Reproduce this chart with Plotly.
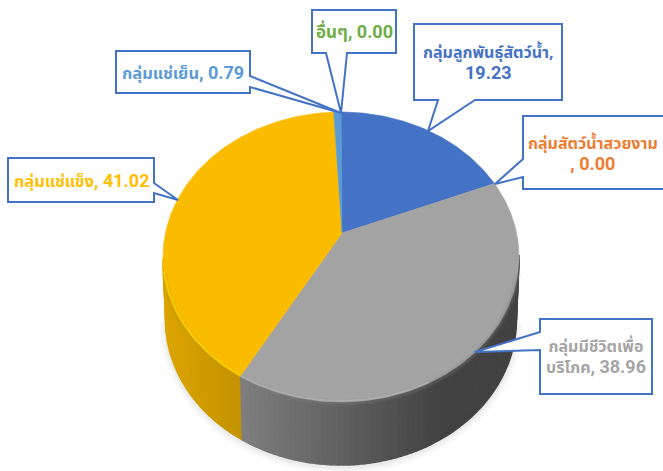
import re
import numpy as np
import plotly.graph_objects as go

categories = ["กลุ่มลูกพันธุ์สัตว์น้ำ", "กลุ่มสัตว์น้ำสวยงาม", "กลุ่มมีชีวิตเพื่อบริโภค", "กลุ่มแช่แข็ง", "กลุ่มแช่เย็น", "อื่นๆ"]
values = [19.23, 0.00, 38.96, 41.02, 0.79, 0.00]
slice_colors = ["#4472C4", "#ED7D31", "#A3A3A3", "#FBBC00", "#5B9BD5", "#70AD47"]
text_colors = ["#4472C4", "#ED7D31", "#A5A5A5", "#FFC000", "#5B9BD5", "#70AD47"]
label_lines = [
    "กลุ่มลูกพันธุ์สัตว์น้ำ,<br>19.23",
    "กลุ่มสัตว์น้ำสวยงาม<br>, 0.00",
    "กลุ่มมีชีวิตเพื่อ<br>บริโภค, 38.96",
    "กลุ่มแช่แข็ง, 41.02",
    "กลุ่มแช่เย็น, 0.79",
    "อื่นๆ, 0.00",
]
label_sizes = [16, 16, 16, 16.5, 16.5, 17]

# Layout of the tilted pie, in page pixels
CX, CY, RX, RY = 341, 257, 178, 145
APEX = (342, 233)
DEPTH = 63
BOTTOM_SCALE = 0.985
WARP = np.radians(10.3)

# label box: x0, y0, x1, y1, wedge base a, wedge base b, tip
boxes = [
    (414, 24, 562, 100, (475, 100), (438, 100), (428, 131)),
    (523, 116, 672, 189, (523, 177), (523, 159), (495, 184)),
    (540, 319, 652, 394, (540, 350), (540, 332), (475, 352)),
    (8, 158, 154, 202, (154, 183), (154, 193), (178, 200)),
    (116, 51, 250, 93, (250, 76), (250, 87), (341, 113)),
    (312, 10, 396, 53, (347, 53), (326, 53), (341, 113)),
]


def param(theta):
    return theta - WARP * np.sin(theta)


def rim(theta):
    t = param(theta)
    return CX + RX * np.sin(t), CY - RY * np.cos(t)


def hexrgb(c):
    return tuple(int(c[i:i + 2], 16) for i in (1, 3, 5))


def scaled(c, f):
    r, g, b = hexrgb(c)
    return f"rgb({min(255, int(r * f))},{min(255, int(g * f))},{min(255, int(b * f))})"


def styled(label):
    return re.sub(r"(, ?)?(\d+\.\d+)",
                  lambda m: f"<span style=\"font-family:Roboto;font-size:18px\">{m.group(0)}</span>",
                  label)


fig = go.Figure()
cum = np.cumsum([0] + values) / sum(values) * 2 * np.pi


def poly(x, y, color, lw=0.6):
    fig.add_trace(go.Scatter(x=list(x), y=list(y), mode="lines", fill="toself", fillcolor=color,
                             line=dict(color=color, width=lw), hoverinfo="skip", showlegend=False))


# soft shadow under the body
tt = np.linspace(np.pi * 0.5, np.pi * 1.5, 160)
for w, a in [(16, 0.012), (12, 0.015), (8, 0.02), (4, 0.03)]:
    fig.add_trace(go.Scatter(x=CX + BOTTOM_SCALE * RX * np.sin(tt), y=CY + DEPTH - RY * np.cos(tt) + 2, mode="lines",
                             line=dict(color=f"rgba(0,0,0,{a})", width=w), hoverinfo="skip", showlegend=False))

# side wall strips
for i, col in enumerate(slice_colors):
    a, b = cum[i], cum[i + 1]
    if b - a <= 0:
        continue
    n = max(2, int((b - a) / np.radians(1.5)))
    edges = np.linspace(a, b, n + 1)
    for e0, e1 in zip(edges[:-1], edges[1:]):
        mid = (e0 + e1) / 2
        if np.cos(param(mid)) > 0:
            continue
        xs0, ys0 = rim(np.array([e0, e1]))
        xb = CX + (xs0 - CX) * BOTTOM_SCALE
        xm, _ = rim(mid)
        f = np.interp(xm, [163, 240, 440, 518], [0.88, 0.78, 0.41, 0.41])
        poly(list(xs0) + list(xb[::-1]), list(ys0) + list(ys0[::-1] + DEPTH), scaled(col, f), lw=1.6)

# top face
for i, col in enumerate(slice_colors):
    a, b = cum[i], cum[i + 1]
    if b - a <= 0:
        continue
    th = np.linspace(a, b, max(3, int((b - a) / np.radians(1))))
    x, y = rim(th)
    poly([APEX[0]] + list(x) + [APEX[0]], [APEX[1]] + list(y) + [APEX[1]], col)

# bevel highlight along the front rim
for i, col in enumerate(slice_colors):
    a, b = cum[i], cum[i + 1]
    if b - a <= 0:
        continue
    th = np.linspace(a, b, max(3, int((b - a) / np.radians(1))))
    th = th[np.cos(param(th)) < -0.1]
    if len(th) < 2:
        continue
    x, y = rim(th)
    for w, op in [(7, 0.10), (4, 0.18)]:
        fig.add_trace(go.Scatter(x=x, y=y + 1, mode="lines", line=dict(color=scaled(col, 0.8), width=w),
                                 opacity=op, hoverinfo="skip", showlegend=False))
    hi = "#FFE600" if col == "#FBBC00" else scaled(col, 1.15)
    keep = x < 430
    fig.add_trace(go.Scatter(x=x[keep], y=y[keep] - 1, mode="lines", line=dict(color=hi, width=2),
                             opacity=0.55, hoverinfo="skip", showlegend=False))

# callout boxes
shapes = []
annotations = []
order = [5, 4, 0, 1, 3, 2]
for i in order:
    x0, y0, x1, y1, wa, wb, tip = boxes[i]
    if wa[1] == y1:  # wedge on bottom edge
        p = [(x0, y0), (x1, y0), (x1, y1), wa, tip, wb, (x0, y1)]
    elif wa[0] == x0:  # wedge on left edge
        p = [(x0, y0), (x1, y0), (x1, y1), (x0, y1), wa, tip, wb]
    else:  # wedge on right edge
        p = [(x0, y0), (x1, y0), wa, tip, wb, (x1, y1), (x0, y1)]
    path = "M " + " L ".join(f"{a} {b}" for a, b in p) + " Z"
    shapes.append(dict(type="path", path=path, xref="x", yref="y", fillcolor="white",
                       line=dict(color="#4472C4", width=2)))
    annotations.append(dict(x=(x0 + min(x1, 663)) / 2, y=(y0 + y1) / 2, xref="x", yref="y",
                            text=f"<b>{styled(label_lines[i])}</b>",
                            showarrow=False, align="center", xanchor="center", yanchor="middle",
                            font=dict(family="Noto Sans, Noto Sans Thai, sans-serif", size=label_sizes[i], color=text_colors[i])))

fig.update_layout(
    width=663, height=471, margin=dict(l=0, r=0, t=0, b=0),
    paper_bgcolor="white", plot_bgcolor="white", showlegend=False,
    xaxis=dict(range=[0, 663], visible=False, fixedrange=True),
    yaxis=dict(range=[471, 0], visible=False, fixedrange=True),
    shapes=shapes, annotations=annotations,
)
fig.write_html("out.html", config={"displayModeBar": False},
               post_script="document.body.style.margin='0';document.documentElement.style.overflow='hidden';")
